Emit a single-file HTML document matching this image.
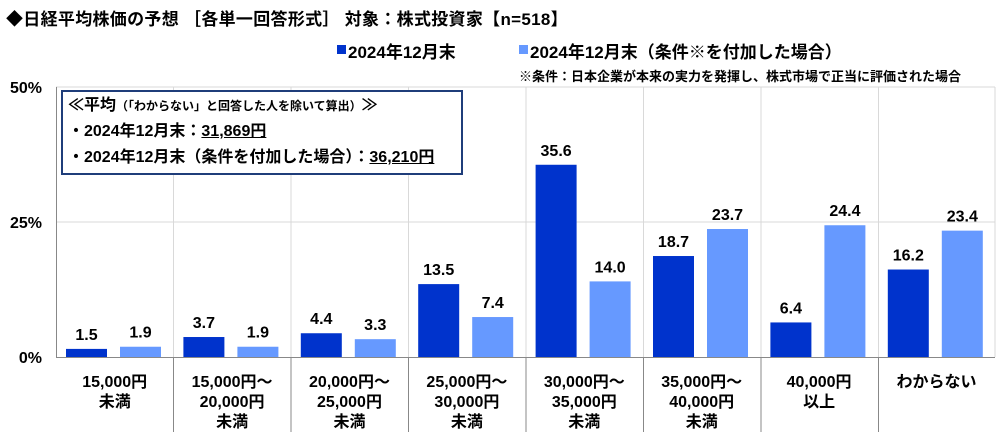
<!DOCTYPE html>
<html><head><meta charset="utf-8"><style>
body{margin:0;width:1000px;height:437px;background:#fff;overflow:hidden;font-family:"Liberation Sans","Noto Sans CJK JP",sans-serif;font-weight:bold;color:#000}
.a{position:absolute;white-space:nowrap}
</style></head><body>
<svg width="1000" height="437" style="position:absolute;left:0;top:0" font-family="Liberation Sans, Noto Sans CJK JP, sans-serif" font-weight="bold">
<g stroke="#d9d9d9" stroke-width="1">
<line x1="56" y1="222" x2="995" y2="222"/>
<line x1="56" y1="87" x2="995" y2="87"/>
<line x1="173.5" y1="87" x2="173.5" y2="357"/><line x1="291" y1="87" x2="291" y2="357"/><line x1="408.5" y1="87" x2="408.5" y2="357"/><line x1="526" y1="87" x2="526" y2="357"/><line x1="643.5" y1="87" x2="643.5" y2="357"/><line x1="761" y1="87" x2="761" y2="357"/><line x1="878.5" y1="87" x2="878.5" y2="357"/><line x1="995" y1="87" x2="995" y2="357"/>
</g>
<line x1="56.5" y1="87" x2="56.5" y2="357" stroke="#888"/>
<line x1="56" y1="357.5" x2="995" y2="357.5" stroke="#888"/>
<g stroke="#888"><line x1="173.5" y1="357" x2="173.5" y2="432"/><line x1="291" y1="357" x2="291" y2="432"/><line x1="408.5" y1="357" x2="408.5" y2="432"/><line x1="526" y1="357" x2="526" y2="432"/><line x1="643.5" y1="357" x2="643.5" y2="432"/><line x1="761" y1="357" x2="761" y2="432"/><line x1="878.5" y1="357" x2="878.5" y2="432"/></g>
<g font-size="16" text-anchor="end"><text x="42" y="93">50%</text><text x="42" y="228">25%</text><text x="42" y="363">0%</text></g>
<g id="bars"></g>
</svg>
<script>
var d=[[1.5,1.9],[3.7,1.9],[4.4,3.3],[13.5,7.4],[35.6,14.0],[18.7,23.7],[6.4,24.4],[16.2,23.4]];
var s='';
d.forEach(function(v,i){var gx=56+i*117.4;
[0,1].forEach(function(k){var x=gx+10+k*54,h=v[k]*5.4,y=357-h;
s+='<rect x="'+x+'" y="'+y+'" width="41" height="'+h+'" fill="'+(k?'#6699ff':'#0033cc')+'"/>';
s+='<text x="'+(x+20.5)+'" y="'+(y-9)+'" font-size="16" text-anchor="middle">'+v[k].toFixed(1)+'</text>';});});
var L=[["15,000円","未満"],["15,000円～","20,000円","未満"],["20,000円～","25,000円","未満"],["25,000円～","30,000円","未満"],["30,000円～","35,000円","未満"],["35,000円～","40,000円","未満"],["40,000円","以上"],["わからない"]];
L.forEach(function(l,i){var cx=56+i*117.4+58.7;l.forEach(function(t,j){s+='<text x="'+cx+'" y="'+(387+j*20)+'" font-size="16" text-anchor="middle">'+t+'</text>';});});
document.getElementById('bars').innerHTML=s;
</script>
<div class="a" style="left:6px;top:5px;font-size:17px;letter-spacing:0.3px">◆日経平均株価の予想 ［各単一回答形式］ 対象：株式投資家【n=518】</div>
<div class="a" style="left:337px;top:45px;width:9px;height:9px;background:#0033cc"></div>
<div class="a" style="left:348px;top:38px;font-size:17px">2024年12月末</div>
<div class="a" style="left:519px;top:45px;width:9px;height:9px;background:#6699ff"></div>
<div class="a" style="left:530px;top:38px;font-size:17px">2024年12月末（条件※を付加した場合）</div>
<div class="a" style="left:519px;top:66px;font-size:13px">※条件：日本企業が本来の実力を発揮し、株式市場で正当に評価された場合</div>
<div class="a" style="left:61px;top:90px;width:402px;height:85px;border:2px solid #1f3d7a;background:#fff;font-size:16px;line-height:26px;padding-left:5px;box-sizing:border-box">
<div style="margin-top:1px">≪平均<span style="font-size:12px">（「わからない」と回答した人を除いて算出）</span>≫</div>
<div>・2024年12月末：<u>31,869円</u></div>
<div>・2024年12月末（条件を付加した場合）：<u>36,210円</u></div>
</div>
</body></html>
